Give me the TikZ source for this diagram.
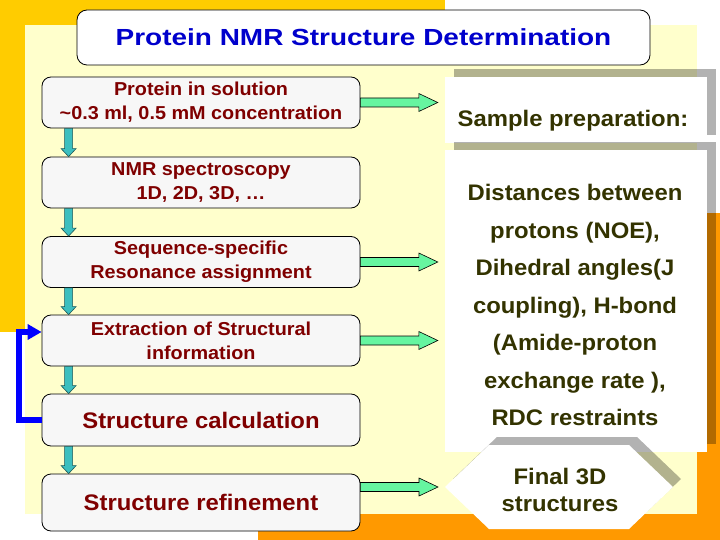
\documentclass[tikz,border=0pt]{standalone}
\usepackage{fontspec}
\setmainfont{Liberation Sans}
\newfontfamily\wfont[FakeStretch=1.06]{Liberation Sans}
\newfontfamily\tfont[FakeStretch=1.2]{Liberation Sans}
\usetikzlibrary{calc,arrows.meta,shadows}
\definecolor{gold}{HTML}{FFCC00}
\definecolor{orng}{HTML}{FF9900}
\definecolor{lyel}{HTML}{FFFFCC}
\definecolor{ttlblue}{HTML}{0000CC}
\definecolor{dred}{HTML}{7F0000}
\definecolor{olivetxt}{HTML}{333300}
\definecolor{boxfill}{HTML}{F7F7F7}
\definecolor{tealc}{HTML}{3CBFBF}
\definecolor{grn}{HTML}{66F5A0}
\definecolor{fbblue}{HTML}{0000FF}
\tikzset{
  lbox/.style={draw=black, line width=0.8pt, rounded corners=9pt, fill=boxfill,
    minimum width=318pt, minimum height=51pt, align=center, text=dred, inner sep=0pt,
    font=\wfont\bfseries\fontsize{18.7}{24}\selectfont},
  lbig/.style={lbox, font=\wfont\bfseries\fontsize{22.5}{27}\selectfont},
  panel/.style={fill=white, draw=none, inner sep=0pt,
    drop shadow={shadow xshift=9pt, shadow yshift=8pt, fill=black, opacity=0.3}},
  ptext/.style={text=olivetxt, align=center, inner sep=0pt,
    font=\wfont\bfseries\fontsize{22.5}{37.5}\selectfont},
  dnarr/.style={fill=tealc, draw=black!55!tealc, line width=0.6pt},
  rtarr/.style={fill=grn, draw=black, line width=0.6pt},
  fback/.style={draw=fbblue, line width=5.5pt, line join=miter,
    -{Triangle[length=14pt 0,width=15pt 0]}},
}
\newcommand\dnarrow[2]{%
  \filldraw[dnarr] let \p1=($(#1.south west)+(27,0)$), \p2=($(#2.north west)+(27,0)$) in
  (\x1-4pt,\y1) -- (\x1+4pt,\y1) -- (\x1+4pt,\y2+8pt) -- (\x1+7.5pt,\y2+8pt) -- (\x1,\y2)
  -- (\x1-7.5pt,\y2+8pt) -- (\x1-4pt,\y2+8pt) -- cycle;}
\newcommand\rtarrow[2]{%
  \filldraw[rtarr] let \p1=(#1), \p2=(#2) in
  (\x1,\y1+4.5pt) -- (\x2-19pt,\y1+4.5pt) -- (\x2-19pt,\y1+9pt) -- (\x2,\y1)
  -- (\x2-19pt,\y1-9pt) -- (\x2-19pt,\y1-4.5pt) -- (\x1,\y1-4.5pt) -- cycle;}
\begin{document}
\begin{tikzpicture}[x=1pt,y=-1pt]
\useasboundingbox (0,0) rectangle (720,540);
% backgrounds
\fill[white] (0,0) rectangle (720,540);
\fill[gold] (0,0) rectangle (445,332);
\fill[orng] (258,213) rectangle (720,540);
\fill[lyel] (25,25) rectangle (697,514);
% title
\node[draw=black, line width=0.8pt, rounded corners=10pt, fill=white,
  minimum width=573pt, minimum height=55pt, inner sep=0pt, text=ttlblue,
  font=\tfont\bfseries\fontsize{23.3}{28}\selectfont] (title) at (363.5,37.5)
  {Protein NMR Structure Determination};
% right panels
\node[panel, minimum width=262pt, minimum height=66pt] (p1) at (576,110) {};
\node[ptext] (p1t) at (573,121) {Sample preparation:};
\node[panel, minimum width=262pt, minimum height=302pt] (p2) at (576,301) {};
\node[ptext] (p2t) at (575,305) {Distances between\\protons (NOE),\\Dihedral angles(J\\coupling), H-bond\\(Amide-proton\\exchange rate ),\\RDC restraints};
% hexagon
\fill[black, opacity=0.3, shift={(8,-8)}] (445,487) -- (489,445) -- (629,445) -- (673,487) -- (629,529) -- (489,529) -- cycle;
\fill[white] (445,487) -- (489,445) -- (629,445) -- (673,487) -- (629,529) -- (489,529) -- cycle;
\coordinate (hexw) at (445,487);
\node[ptext, font=\wfont\bfseries\fontsize{22.5}{27}\selectfont] (hex) at (560,489.5) {Final 3D\\structures};
% left boxes
\node[lbox] (b1) at (201,102.5) {Protein in solution\\\textasciitilde0.3 ml, 0.5 mM concentration};
\node[lbox] (b2) at (201,182.5) {NMR spectroscopy\\1D, 2D, 3D, …};
\node[lbox] (b3) at (201,262) {Sequence-specific\\Resonance assignment};
\node[lbox] (b4) at (201,340.5) {Extraction of Structural\\information};
\node[lbig, minimum height=52pt] (b5) at (201,420) {Structure calculation};
\node[lbig, minimum height=57pt] (b6) at (201,502.5) {Structure refinement};
% down arrows
\dnarrow{b1}{b2}
\dnarrow{b2}{b3}
\dnarrow{b3}{b4}
\dnarrow{b4}{b5}
\dnarrow{b5}{b6}
% right arrows
\rtarrow{b1.east}{$(b1.east -| p1.west)+(-7,0)$}
\rtarrow{b3.east}{$(b3.east -| p2.west)+(-7,0)$}
\rtarrow{b4.east}{$(b4.east -| p2.west)+(-7,0)$}
\rtarrow{b6.east |- hexw}{$(hexw)+(-7,0)$}
% feedback
\draw[fback] (b5.west) -- ++(-22.5,0) |- ($(b4.west)+(0,-8.5)$);
\end{tikzpicture}
\end{document}
